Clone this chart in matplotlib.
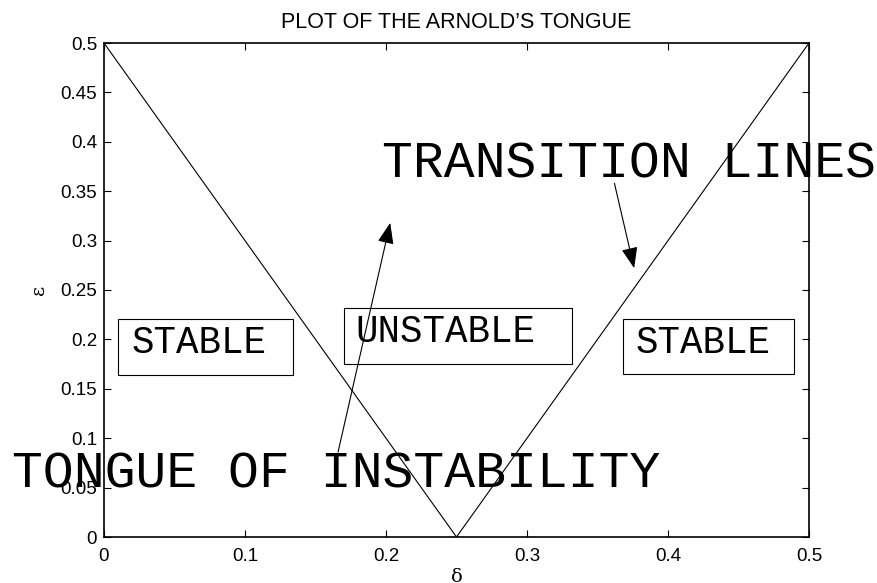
import numpy as np
import matplotlib.pyplot as plt
from matplotlib.patches import Rectangle

# boundary of the tongue: eps = 2|delta - 1/4|
delta = [0.0, 0.25, 0.5]
eps = [0.5, 0.0, 0.5]

xticks = [0, 0.1, 0.2, 0.3, 0.4, 0.5]
yticks = [0, 0.05, 0.1, 0.15, 0.2, 0.25, 0.3, 0.35, 0.4, 0.45, 0.5]

fig = plt.figure(figsize=(8.78, 5.83), dpi=100)
ax = fig.add_axes([104/878, 46/583, 705/878, 494/583])

ax.plot(delta, eps, color='black', lw=0.8)
ax.set_xlim(0, 0.5)
ax.set_ylim(0, 0.5)
ax.set_xticks(xticks)
ax.set_yticks(yticks)
ax.set_xticklabels(['0', '0.1', '0.2', '0.3', '0.4', '0.5'])
ax.set_yticklabels(['0', '0.05', '0.1', '0.15', '0.2', '0.25', '0.3', '0.35', '0.4', '0.45', '0.5'])
ax.tick_params(direction='in', length=5, width=0.8, top=True, right=True,
               labelsize=13.5, pad=5)
ax.tick_params(axis='x', pad=8)
for s in ax.spines.values():
    s.set_linewidth(1.2)
for lab in ax.get_xticklabels() + ax.get_yticklabels():
    lab.set_family('Liberation Sans')

ax.set_title("PLOT OF THE ARNOLD\u2019S TONGUE", fontsize=15.5, family='Liberation Sans', pad=11)
ax.set_xlabel('\u03b4', fontsize=14, family='DejaVu Serif', labelpad=2)
ax.set_ylabel('\u03b5', fontsize=14, family='DejaVu Serif', labelpad=9)

mono = 'Liberation Mono'

# region labels with frames
ax.text(0.0199, 0.186, 'STABLE', fontsize=27, family=mono, va='baseline')
ax.text(0.178, 0.197, 'UNSTABLE', fontsize=27, family=mono, va='baseline')
ax.text(0.377, 0.186, 'STABLE', fontsize=27, family=mono, va='baseline')
for x0, y0, x1, y1 in [(0.0099, 0.164, 0.134, 0.2206),
                       (0.170, 0.1751, 0.332, 0.2318),
                       (0.368, 0.165, 0.4894, 0.2206)]:
    ax.add_patch(Rectangle((x0, y0), x1 - x0, y1 - y0, fill=False,
                           edgecolor='black', lw=0.8))

ax.text(0.197, 0.3634, 'TRANSITION LINES', fontsize=37, family=mono, va='baseline')
ax.text(-0.065, 0.0496, 'TONGUE OF INSTABILITY', fontsize=37, family=mono, va='baseline')

arrow = dict(arrowstyle='-|>,head_length=1.3,head_width=0.5', color='black',
             lw=0.8, shrinkA=0, shrinkB=0)
ax.annotate('', xy=(0.203, 0.318), xytext=(0.166, 0.086), arrowprops=arrow)
ax.annotate('', xy=(0.376, 0.272), xytext=(0.362, 0.358), arrowprops=arrow)

plt.savefig('out.png', dpi=100)
